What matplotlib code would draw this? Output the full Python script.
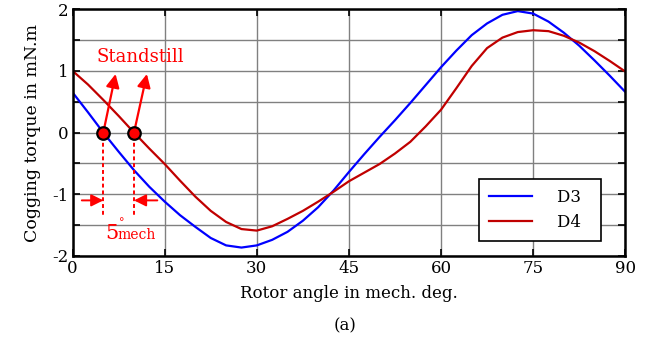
import numpy as np
import matplotlib
matplotlib.use('Agg')
import matplotlib.pyplot as plt

# datos (grados mecanicos, mN.m)
angulo = np.arange(0, 90.1, 2.5)
d3 = [0.65, 0.33, 0.0, -0.31, -0.61, -0.88, -1.12, -1.34, -1.53, -1.71, -1.83, -1.865,
      -1.83, -1.74, -1.61, -1.43, -1.21, -0.94, -0.64, -0.35, -0.07, 0.20, 0.48, 0.77,
      1.06, 1.33, 1.58, 1.77, 1.91, 1.97, 1.93, 1.80, 1.62, 1.41, 1.17, 0.92, 0.66]
d4 = [1.0, 0.78, 0.53, 0.27, 0.0, -0.26, -0.51, -0.78, -1.04, -1.27, -1.45, -1.565,
      -1.59, -1.52, -1.40, -1.27, -1.12, -0.96, -0.79, -0.65, -0.51, -0.34, -0.15, 0.10,
      0.37, 0.72, 1.08, 1.37, 1.54, 1.63, 1.66, 1.645, 1.57, 1.46, 1.32, 1.16, 0.99]
series = ['D3', 'D4']
standstill = [5, 10]
xticks = [0, 15, 30, 45, 60, 75, 90]

plt.rcParams['font.family'] = 'DejaVu Serif'

fig = plt.figure(figsize=(6.54, 3.43), dpi=100)
ax = fig.add_axes([0.111, 0.254, 0.845, 0.719])

ax.plot(angulo, d3, color='#0000FF', lw=1.6, label=series[0] + '  ')
ax.plot(angulo, d4, color='#C00000', lw=1.6, label=series[1] + '  ')

# puntos de reposo y anotaciones
roj = '#FF0000'
for s in standstill:
    ax.plot([s, s], [-0.05, -1.37], color=roj, lw=1.4, ls=(0, (2, 1.5)))
for s, dx in zip(standstill, [2.0, 2.1]):
    ax.annotate('', xy=(s + dx, 0.95), xytext=(s, 0),
                arrowprops=dict(arrowstyle='-|>', color=roj, lw=1.6, mutation_scale=20,
                                shrinkA=0, shrinkB=0))
ax.plot(standstill, [0, 0], 'o', ms=9, mfc=roj, mec='black', mew=1.6, zorder=5)
ax.text(11.0, 1.22, 'Standstill', color=roj, fontsize=13, ha='center', va='center')
ax.annotate('', xy=(standstill[0], -1.1), xytext=(1.5, -1.1),
            arrowprops=dict(arrowstyle='-|>', color=roj, lw=1.4, mutation_scale=18,
                            shrinkA=0, shrinkB=0))
ax.annotate('', xy=(standstill[1], -1.1), xytext=(13.8, -1.1),
            arrowprops=dict(arrowstyle='-|>', color=roj, lw=1.4, mutation_scale=18,
                            shrinkA=0, shrinkB=0))
ax.text(6.4, -1.63, '5', color=roj, fontsize=15, ha='center', va='center')
ax.text(8.0, -1.47, '°', color=roj, fontsize=8, ha='center', va='center')
ax.text(10.4, -1.66, 'mech', color=roj, fontsize=10, ha='center', va='center')

ax.set_xlim(0, 90)
ax.set_ylim(-2, 2)
ax.set_xticks(xticks)
yt = np.arange(-2, 2.01, 0.5)
ax.set_yticks(yt)
ax.set_yticklabels([('%d' % v if v == int(v) else '') for v in yt])
ax.grid(True, color='#808080', lw=1.0)
ax.tick_params(direction='in', top=True, right=True, length=5, width=1.2, labelsize=12, pad=3)
for sp in ax.spines.values():
    sp.set_linewidth(1.8)

ax.set_xlabel('Rotor angle in mech. deg.', fontsize=12, labelpad=6)
ax.set_ylabel('Cogging torque in mN.m', fontsize=12.5, labelpad=8)
fig.text(0.527, 0.05, '(a)', fontsize=12, ha='center', va='center')

leg = ax.legend(loc='lower right', bbox_to_anchor=(0.957, 0.06), fontsize=12,
                fancybox=False, edgecolor='black', framealpha=1, handlelength=2.6,
                handletextpad=1.5, borderpad=0.6, labelspacing=0.5, borderaxespad=0)
leg.get_frame().set_linewidth(1.2)

fig.savefig('out.png', dpi=100)
